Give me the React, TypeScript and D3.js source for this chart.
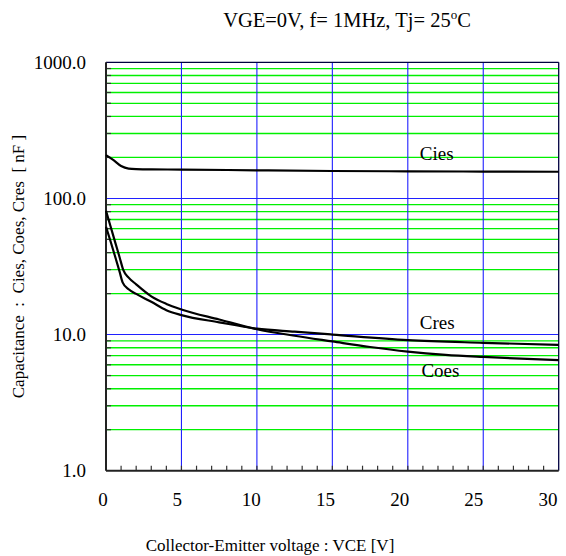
import React from "react";
import * as d3 from "d3";

const W = 566;
const H = 556;

const xTicks = [0, 5, 10, 15, 20, 25, 30];
const yMajor = [1, 10, 100, 1000];
const yTickLabels = ["1.0", "10.0", "100.0", "1000.0"];

const ciesV = [0, 0.5, 1, 1.5, 2, 3, 5, 10, 15, 20, 25, 30];
const ciesC = [208, 191, 173, 165.5, 164, 163.3, 163, 160.8, 159, 158.2, 157.6, 157];

const coesV = [0, 0.3, 0.6, 0.9, 1.15, 1.5, 2, 3, 4, 5, 7.5, 10, 12.5, 15, 17.5, 20, 22.5, 25, 27.5, 30];
const coesC = [81, 62.5, 48, 37, 29.7, 26.2, 23.4, 19.1, 16.8, 15.3, 12.9, 10.95, 9.8, 8.9, 8.1, 7.5, 7.1, 6.85, 6.65, 6.48];

const cresV = [0, 0.3, 0.6, 0.9, 1.1, 1.5, 2, 3, 4, 5, 7.5, 10, 12.5, 15, 20, 25, 30];
const cresC = [61.9, 48.5, 37.6, 29, 24.2, 21.5, 19.9, 17.4, 15.1, 13.9, 12.3, 11.05, 10.5, 10.0, 9.1, 8.7, 8.4];

const curveLabels = ["Cies", "Cres", "Coes"];
const curveLabelPos = [
  [20.8, 190],
  [20.8, 10.9],
  [20.9, 4.9],
];

const FONT = "'Liberation Serif', 'Times New Roman', serif";

export default function App() {
  const left = 106;
  const right = 558.7;
  const top = 62.3;
  const bottom = 470.7;

  const x = d3.scaleLinear().domain([0, 30]).range([left, right]);
  const y = d3.scaleLog().domain([1, 1000]).range([bottom, top]);
  const xLab = d3.scaleLinear().domain([0, 30]).range([103, 548]);

  const minor: number[] = [];
  [1, 10, 100].forEach((d) => {
    for (let k = 2; k <= 9; k++) minor.push(d * k);
  });
  const minorX = d3.range(1, 30);

  const line = d3
    .line<[number, number]>()
    .x((d) => x(d[0]))
    .y((d) => y(d[1]))
    .curve(d3.curveMonotoneX);

  const series = [
    ciesV.map((v, i) => [v, ciesC[i]] as [number, number]),
    coesV.map((v, i) => [v, coesC[i]] as [number, number]),
    cresV.map((v, i) => [v, cresC[i]] as [number, number]),
  ];

  return (
    <svg
      width={W}
      height={H}
      style={{ position: "absolute", left: 0, top: 0, background: "#fff" }}
      fontFamily={FONT}
    >
      {minor.map((m) => (
        <line key={"mg" + m} x1={left} x2={right} y1={y(m)} y2={y(m)} stroke="#00f000" strokeWidth={1.3} />
      ))}
      {[10, 100].map((m) => (
        <line key={"Mg" + m} x1={left} x2={right} y1={y(m)} y2={y(m)} stroke="#2020ff" strokeWidth={1.1} />
      ))}
      {xTicks.slice(1, -1).map((t) => (
        <line key={"vg" + t} x1={x(t)} x2={x(t)} y1={top} y2={bottom} stroke="#2020ff" strokeWidth={1.1} />
      ))}
      {minor.map((m) => (
        <line key={"lt" + m} x1={left} x2={left + 5} y1={y(m)} y2={y(m)} stroke="#333" strokeWidth={1.2} />
      ))}
      {minorX.map((t) => (
        <line key={"bt" + t} x1={x(t)} x2={x(t)} y1={bottom} y2={bottom - 5} stroke="#333" strokeWidth={1.2} />
      ))}
      <line x1={left} x2={right} y1={top} y2={top} stroke="#000040" strokeWidth={1.3} />
      <line x1={right} x2={right} y1={top} y2={bottom} stroke="#000040" strokeWidth={1.3} />
      <line x1={left} x2={left} y1={top} y2={bottom} stroke="#222" strokeWidth={2} />
      <line x1={left} x2={right} y1={bottom} y2={bottom} stroke="#222" strokeWidth={2} />

      {series.map((s, i) => (
        <path key={"c" + i} d={line(s) || ""} fill="none" stroke="#000" strokeWidth={2.2} />
      ))}

      {curveLabels.map((t, i) => (
        <text key={t} x={x(curveLabelPos[i][0])} y={y(curveLabelPos[i][1])} fontSize={19} fill="#000">
          {t}
        </text>
      ))}

      {yMajor.map((m, i) => (
        <text key={"yl" + m} x={86} y={y(m)} dy="0.35em" textAnchor="end" fontSize={19} fill="#000">
          {yTickLabels[i]}
        </text>
      ))}
      {xTicks.map((t) => (
        <text key={"xl" + t} x={xLab(t)} y={506} textAnchor="middle" fontSize={19} fill="#000">
          {t}
        </text>
      ))}

      <text x={347} y={27} textAnchor="middle" fontSize={20.5} fill="#000">
        VGE=0V, f= 1MHz, Tj= 25
        <tspan dy={-8} fontSize={13}>o</tspan>
        <tspan dy={8}>C</tspan>
      </text>

      <text x={270} y={551} textAnchor="middle" fontSize={17} fill="#000">
        Collector-Emitter voltage : VCE [V]
      </text>

      <text
        transform={`translate(24, ${(top + bottom) / 2}) rotate(-90)`}
        textAnchor="middle"
        fontSize={17}
        fill="#000"
        style={{ whiteSpace: "pre" }}
      >
        {"Capacitance  :  Cies, Coes, Cres  [ nF ]"}
      </text>
    </svg>
  );
}
